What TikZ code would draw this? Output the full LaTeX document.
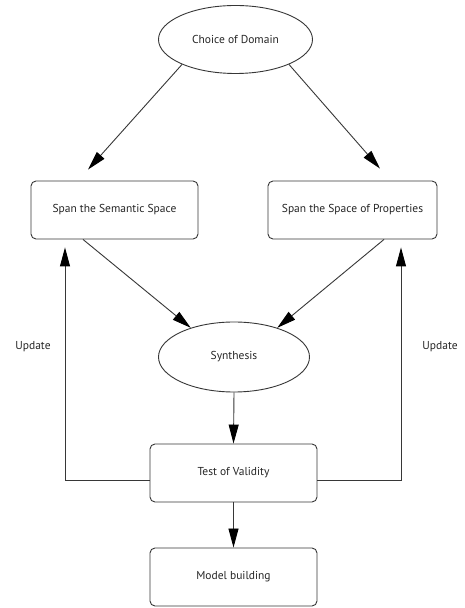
\documentclass[tikz,border=0pt]{standalone}
\usepackage{fontspec}
\setmainfont{PT Sans}
\usetikzlibrary{shapes.geometric,arrows.meta,calc}
\definecolor{linec}{RGB}{55,55,55}
\tikzset{
  every node/.style={font=\fontsize{11.5}{13}\selectfont, text=black!85},
  oval/.style={ellipse, draw=linec, line width=0.9pt, inner sep=0pt},
  rbox/.style={rectangle, draw=linec, line width=0.9pt, rounded corners=5pt, inner sep=0pt, minimum height=58pt},
  conn/.style={draw=linec, line width=0.9pt, -{Triangle[length=19pt,width=10pt,color=black,fill=black]}},
  plain/.style={draw=linec, line width=0.9pt},
}
\begin{document}
\begin{tikzpicture}[x=1pt,y=1pt]
\useasboundingbox[fill=white] (0,0) rectangle (464,608);
\node[oval, minimum width=154pt, minimum height=68pt] (dom) at (235.5,568.5) {Choice of Domain};
\node[rbox, minimum width=167pt] (sem) at (114.5,398) {Span the Semantic Space};
\node[rbox, minimum width=169pt] (prop) at (352.5,398) {Span the Space of Properties};
\node[oval, minimum width=151pt, minimum height=70pt] (syn) at (234,251) {Synthesis};
\node[rbox, minimum width=167pt] (test) at (233.5,135) {Test of Validity};
\node[rbox, minimum width=167pt] (model) at (233.5,31) {Model building};
\node (upl) at (33,261) {Update};
\node (upr) at (440,261) {Update};
\coordinate (semtip) at ($(sem.north)+(-26.5,11)$);
\coordinate (proptip) at ($(prop.north)+(27.5,12)$);
\coordinate (semout) at ($(sem.south)+(-31.5,0)$);
\coordinate (propout) at ($(prop.south)+(31.5,0)$);
\coordinate (semin) at ($(sem.south)+(-49.5,-8)$);
\coordinate (propin) at ($(prop.south)+(48.5,-8)$);
\coordinate (testl) at ($(test.west)+(0,-7)$);
\coordinate (testr) at ($(test.east)+(0,-7)$);
\draw[conn] (dom.205) -- (semtip);
\draw[conn] (dom.335) -- (proptip);
\draw[conn] (semout) -- (syn.146);
\draw[conn] (propout) -- (syn.34);
\draw[conn] (syn.south) -- (test.north);
\draw[conn] (test.south) -- (model.north);
\draw[conn] (testl) -| (semin);
\draw[conn] (testr) -| (propin);
\end{tikzpicture}
\end{document}
